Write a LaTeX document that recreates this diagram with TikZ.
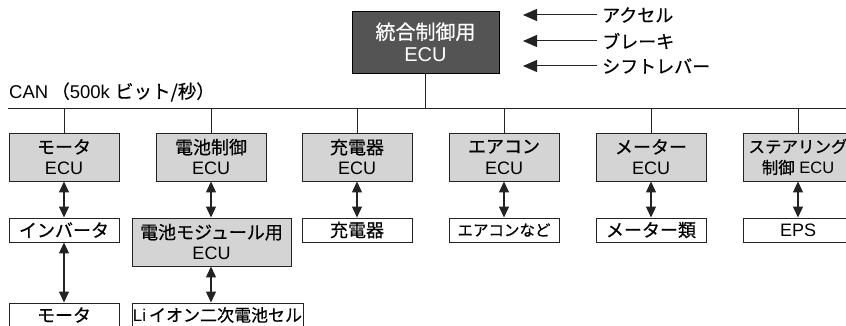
\documentclass[tikz,border=0pt]{standalone}
\usepackage{fontspec}
\setmainfont{Liberation Sans}
\newfontfamily\jp[FakeBold=0.5]{Noto Sans CJK JP}
\usetikzlibrary{arrows.meta}
\definecolor{darkbox}{RGB}{84,84,84}
\definecolor{lightbox}{RGB}{212,212,212}
\definecolor{ink}{RGB}{35,35,35}
\begin{document}
\begin{tikzpicture}[x=1pt,y=-1pt,
  box/.style={draw=ink, line width=0.9pt, inner sep=0pt, align=center, text=black,
              font=\fontsize{18}{21}\selectfont},
  ecu/.style={box, fill=lightbox, minimum width=110pt, minimum height=48pt},
  dev/.style={box, fill=white, minimum width=110pt, minimum height=24pt},
  link/.style={draw=ink, line width=0.9pt},
  dbl/.style={draw=ink, line width=1.1pt,
              {Triangle[length=11pt,width=10pt]}-{Triangle[length=11pt,width=10pt]}},
  inarr/.style={draw=ink, line width=1pt, -{Triangle[length=14pt,width=12pt]}},
  lbl/.style={inner xsep=5pt, inner ysep=0pt, anchor=west, font=\fontsize{18}{21}\selectfont\jp}]
\path[use as bounding box] (0,0) rectangle (846,326);
\clip (0,0) rectangle (846,326);

% main ECU
\node[box, fill=darkbox, draw=black, text=white, minimum width=147pt, minimum height=62pt,
      font=\fontsize{20}{22}\selectfont] (main) at (425.5,42) {{\jp 統合制御用}\\ECU};

% inputs
\node[lbl] (acc) at (597,15) {アクセル};
\node[lbl] (brk) at (597,41) {ブレーキ};
\node[lbl] (sft) at (597,66) {シフトレバー};
\coordinate (accT) at (523,15);
\coordinate (brkT) at (523,41);
\coordinate (sftT) at (523,66);
\draw[inarr] (acc.west) -- (accT);
\draw[inarr] (brk.west) -- (brkT);
\draw[inarr] (sft.west) -- (sftT);

% CAN bus
\coordinate (canL) at (8,108);
\coordinate (canR) at (846,108);
\draw[link] (canL) -- (canR);
\node[anchor=west, inner sep=0pt, font=\fontsize{18.5}{21}\selectfont] (canlbl) at (9,92)
  {CAN\,{\jp （}500k {\jp ビット/秒）}};
\draw[link] (main.south) -- (main.south |- canL);

% ECU row
\node[ecu] (e1) at (64,157)  {{\jp モータ}\\ECU};
\node[ecu] (e2) at (211,157) {{\jp 電池制御}\\ECU};
\node[ecu] (e3) at (357,157) {{\jp 充電器}\\ECU};
\node[ecu] (e4) at (504,157) {{\jp エアコン}\\ECU};
\node[ecu] (e5) at (651,157) {{\jp メーター}\\ECU};
\node[ecu, font=\fontsize{16.5}{21}\selectfont] (e6) at (798,157) {{\jp ステアリング}\\{\jp 制御} ECU};
\foreach \e in {e1,e2,e3,e4,e5,e6}
  \draw[link] (\e.north) -- (\e.north |- canL);

% device row
\node[dev] (inv) at (64,230)  {\jp インバータ};
\node[ecu, minimum width=159pt] (bm) at (211.5,242) {{\jp 電池モジュール用}\\ECU};
\node[dev] (chg) at (357,230) {\jp 充電器};
\node[dev, font=\fontsize{15.5}{21}\selectfont] (air) at (504,230) {\jp エアコンなど};
\node[dev] (met) at (651,230) {\jp メーター類};
\node[dev] (eps) at (798,230) {EPS};

% bottom row
\node[dev] (mot) at (64,315) {\jp モータ};
\node[dev, minimum width=171pt, font=\fontsize{17}{21}\selectfont] (li) at (217.5,315)
  {Li\,{\jp イオン二次電池セル}};

% double arrows
\draw[dbl] (e1.south) -- (inv.north);
\draw[dbl] (e2.south) -- (e2.south |- bm.north);
\draw[dbl] (e3.south) -- (chg.north);
\draw[dbl] (e4.south) -- (air.north);
\draw[dbl] (e5.south) -- (met.north);
\draw[dbl] (e6.south) -- (eps.north);
\draw[dbl] (inv.south) -- (mot.north);
\draw[dbl] (e2.south |- bm.south) -- (e2.south |- li.north);
\end{tikzpicture}
\end{document}
